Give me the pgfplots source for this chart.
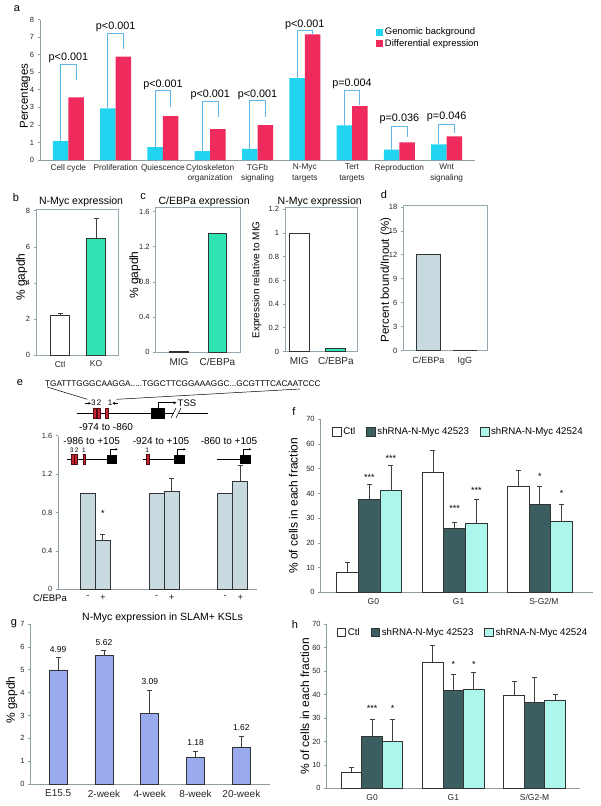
\documentclass[border=0pt]{standalone}
\usepackage{fontspec}
\setmainfont{Liberation Sans}
\usepackage{pgfplots}
\pgfplotsset{compat=1.18}
\usetikzlibrary{arrows.meta}
\definecolor{cyanA}{HTML}{22D4EF}
\definecolor{redA}{HTML}{EF2A5C}
\definecolor{brk}{HTML}{62B6E8}
\definecolor{axgray}{HTML}{8E9CA3}
\definecolor{frgray}{HTML}{97A8B0}
\definecolor{greenB}{HTML}{30E4B4}
\definecolor{gbfill}{HTML}{C9D9E0}
\definecolor{darkF}{HTML}{3B5F60}
\definecolor{lightF}{HTML}{ACF6EC}
\definecolor{blueG}{HTML}{99AAEE}
\definecolor{redbox}{HTML}{C62430}
\pgfplotsset{
 base/.style={scale only axis, anchor=south west, clip=false,
   every axis title shift=0pt,
   /pgf/number format/assume math mode=true,
   tick align=outside, major tick length=2.5pt,
   tick style={draw=axgray, line width=0.7pt},
   ticklabel style={font=\fontsize{7.5}{8}\selectfont, text=black!85},
   xtick style={draw=none}},
 framed/.style={base, axis line style={draw=frgray, line width=1pt}, ytick pos=left},
 open/.style={base, axis x line*=bottom, axis y line*=left, axis line style={draw=axgray, line width=0.8pt}},
 mybar/.style={ybar, bar width=#1, bar shift=0pt, draw=black!80, line width=0.9pt},
 brkline/.style={sharp plot, no markers, draw=brk, line width=0.9pt, forget plot},
 errb/.style={error bars/.cd, y dir=plus, y explicit, error bar style={line width=0.9pt, draw=black!75}, error mark options={rotate=90, mark size=2.5pt, line width=0.9pt, draw=black!75}},
 sq/.style={legend image code/.code={\draw[fill=#1, draw=black!80, line width=0.6pt] (0pt,-4.2pt) rectangle (8.5pt,4.2pt);}},
 fleg/.style={legend columns=3, legend style={at={(axis description cs:#1)}, anchor=west, draw=none, fill=none,
   nodes={font=\fontsize{9.7}{10}\selectfont, inner xsep=2pt},
   /tikz/every even column/.append style={column sep=9pt}}},
}
\begin{document}
\begin{tikzpicture}
\path[use as bounding box] (0,0) rectangle (600pt,-806pt);

% ---------------- a
\begin{axis}[open, at={(40pt,-160pt)}, width=435pt, height=140.5pt,
 xmin=-0.6, xmax=8.6, ymin=0, ymax=8, ytick={0,1,...,8}, xtick={0,1,...,8},
 xticklabels={Cell cycle,Proliferation,Quiescence,{Cytoskeleton\\organization},{TGFb\\signaling},{N-Myc\\targets},{Tert\\targets},Reproduction,{Wnt\\signaling}},
 x tick label style={align=center, font=\fontsize{8.3}{10.5}\selectfont, inner sep=1.5pt},
 ylabel={Percentages}, ylabel style={at={(axis description cs:-0.0345,0.457)}, anchor=center, font=\fontsize{11.5}{12}\selectfont},
 legend style={at={(axis description cs:0.765,0.97)}, anchor=north west, draw=none, fill=none, nodes={font=\fontsize{9.5}{10}\selectfont}, row sep=-1pt},
 legend cell align=left]
\addplot[ybar, bar width=15.5pt, bar shift=-7.75pt, fill=cyanA, draw=none,
  legend image code/.code={\fill[cyanA] (0pt,-3.5pt) rectangle (7pt,3.5pt);}]
  coordinates {(0,1.08)(1,2.94)(2,0.74)(3,0.51)(4,0.63)(5,4.66)(6,1.97)(7,0.59)(8,0.89)};
\addlegendentry{Genomic background}
\addplot[ybar, bar width=15.5pt, bar shift=7.75pt, fill=redA, draw=none,
  legend image code/.code={\fill[redA] (0pt,-3.5pt) rectangle (7pt,3.5pt);}]
  coordinates {(0,3.56)(1,5.88)(2,2.50)(3,1.76)(4,1.99)(5,7.15)(6,3.07)(7,1.00)(8,1.35)};
\addlegendentry{Differential expression}
\addplot[brkline] coordinates {(-0.164,1.08)(-0.164,5.45)(0.164,5.45)(0.164,4.55)};
\addplot[brkline] coordinates {(0.836,2.94)(0.836,7.2)(1.164,7.2)(1.164,6.3)};
\addplot[brkline] coordinates {(1.836,0.74)(1.836,3.97)(2.164,3.97)(2.164,3.0)};
\addplot[brkline] coordinates {(2.836,0.51)(2.836,3.32)(3.164,3.32)(3.164,2.43)};
\addplot[brkline] coordinates {(3.836,0.63)(3.836,3.37)(4.164,3.37)(4.164,2.43)};
\addplot[brkline] coordinates {(4.836,4.66)(4.836,7.36)(5.164,7.36)(5.164,7.15)};
\addplot[brkline] coordinates {(5.836,1.97)(5.836,3.94)(6.164,3.94)(6.164,3.13)};
\addplot[brkline] coordinates {(6.836,0.59)(6.836,1.93)(7.164,1.93)(7.164,1.33)};
\addplot[brkline] coordinates {(7.836,0.89)(7.836,2.05)(8.164,2.05)(8.164,1.52)};
\begin{scope}[every node/.style={font=\fontsize{10.8}{11}\selectfont}]
\node at (axis cs:0,5.8) {p<0.001};
\node at (axis cs:1,7.6) {p<0.001};
\node at (axis cs:2,4.3) {p<0.001};
\node at (axis cs:3,3.7) {p<0.001};
\node at (axis cs:4,3.7) {p<0.001};
\node at (axis cs:5,7.68) {p<0.001};
\node at (axis cs:6,4.32) {p=0.004};
\node at (axis cs:7,2.33) {p=0.036};
\node at (axis cs:8,2.43) {p=0.046};
\end{scope}
\end{axis}

% ---------------- b
\begin{axis}[framed, at={(36pt,-355pt)}, width=82pt, height=146pt,
 xmin=-0.667, xmax=1.611, ymin=0, ymax=8.1, ytick={0,2,4,6,8},
 xtick={0,1}, xticklabels={Ctl,KO}, x tick label style={font=\fontsize{8.5}{9}\selectfont},
 ylabel={\% gapdh}, ylabel style={at={(axis description cs:-0.174,0.534)}, anchor=center, font=\fontsize{12}{12}\selectfont},
 title={N-Myc expression}, title style={at={(axis description cs:0.549,1.048)}, anchor=center, font=\fontsize{10.5}{11}\selectfont}]
\addplot[mybar=18.6pt, fill=white, errb] coordinates {(0,2.2) +- (0,0.13)};
\addplot[mybar=18.6pt, fill=greenB, errb] coordinates {(1,6.45) +- (0,1.13)};
\end{axis}

% ---------------- c left
\begin{axis}[framed, at={(155.7pt,-352pt)}, width=84.3pt, height=145pt,
 xmin=-0.605, xmax=1.584, ymin=0, ymax=1.654, ytick={0,0.4,0.8,1.2,1.6}, yticklabels={0,0.4,0.8,1.2,1.6},
 xtick={0,1}, xticklabels={MIG,C/EBPa}, x tick label style={font=\fontsize{10}{10}\selectfont},
 ylabel={\% gapdh}, ylabel style={at={(axis description cs:-0.246,0.53)}, anchor=center, font=\fontsize{12}{12}\selectfont},
 title={C/EBPa expression}, title style={at={(axis description cs:0.574,1.033)}, anchor=center, font=\fontsize{10.5}{11}\selectfont}]
\addplot[mybar=18.4pt, fill=white] coordinates {(0,0.006)};
\addplot[mybar=18.4pt, fill=greenB] coordinates {(1,1.35)};
\end{axis}

% ---------------- c right
\begin{axis}[framed, at={(285pt,-351.5pt)}, width=72.3pt, height=144.5pt,
 xmin=-0.39, xmax=1.585, ymin=0, ymax=1.22, ytick={0,0.2,0.4,0.6,0.8,1,1.2}, yticklabels={0,0.2,0.4,0.6,0.8,1,1.2},
 xtick={0,1}, xticklabels={MIG,C/EBPa}, x tick label style={font=\fontsize{10}{10}\selectfont},
 ylabel={Expression relative to MIG}, ylabel style={at={(axis description cs:-0.39,0.495)}, anchor=center, font=\fontsize{10}{10}\selectfont},
 title={N-Myc expression}, title style={at={(axis description cs:0.48,1.035)}, anchor=center, font=\fontsize{10.5}{11}\selectfont}]
\addplot[mybar=20pt, fill=white] coordinates {(0,1.0)};
\addplot[mybar=20pt, fill=greenB] coordinates {(1,0.025)};
\end{axis}

% ---------------- d
\begin{axis}[framed, at={(403.3pt,-350.7pt)}, width=84pt, height=145.4pt,
 xmin=-0.685, xmax=1.616, ymin=0, ymax=18.2, ytick={0,3,...,18},
 xtick={0,1}, xticklabels={C/EBPa,IgG}, x tick label style={font=\fontsize{9}{9}\selectfont},
 ylabel={Percent bound/Inout (\%)}, ylabel style={at={(axis description cs:-0.206,0.486)}, anchor=center, font=\fontsize{11.5}{12}\selectfont}]
\addplot[mybar=23.5pt, fill=gbfill] coordinates {(0,12.0)};
\addplot[mybar=23.5pt, fill=gbfill] coordinates {(1,0.08)};
\end{axis}

% ---------------- e
\begin{axis}[open, at={(58.3pt,-589.3pt)}, width=198.4pt, height=153.6pt,
 xmin=0.46, xmax=3.348, ymin=0, ymax=1.6, ytick={0,0.4,0.8,1.2,1.6}, yticklabels={0,0.4,0.8,1.2,1.6},
 xtick={0.891,1.109,1.891,2.109,2.891,3.109}, xticklabels={-,+,-,+,-,+},
 x tick label style={font=\fontsize{9.5}{10}\selectfont}]
\addplot[mybar=15pt, fill=gbfill] coordinates {(0.891,1)(1.891,1)(2.891,1)};
\addplot[mybar=15pt, fill=gbfill, errb] coordinates {(1.109,0.51) +- (0,0.063) (2.109,1.02) +- (0,0.13) (3.109,1.128) +- (0,0.16)};
\node[font=\fontsize{9}{9}\selectfont] at (axis cs:1.109,0.79) {*};
\begin{scope}[every node/.style={font=\fontsize{10}{10}\selectfont}]
\node at (axis cs:0.946,1.548) {-986 to +105};
\node at (axis cs:1.955,1.548) {-924 to +105};
\node at (axis cs:2.945,1.548) {-860 to +105};
\end{scope}
\node[font=\fontsize{9.5}{10}\selectfont] at (axis description cs:-0.042,-0.057) {C/EBPa};
\end{axis}

% ---------------- f
\begin{axis}[open, at={(320.7pt,-592.3pt)}, width=272.6pt, height=173pt,
 xmin=-0.57, xmax=2.626, ymin=0, ymax=70, ytick={0,10,...,70},
 xtick={0,1,2}, xticklabels={G0,G1,S-G2/M}, x tick label style={font=\fontsize{8.5}{9}\selectfont, xshift=4pt},
 ylabel={\% of cells in each fraction}, ylabel style={at={(axis description cs:-0.10,0.5)}, anchor=center, font=\fontsize{12}{12}\selectfont},
 fleg={0.031,0.928}]
\addplot[mybar=21.7pt, fill=white, sq=white, errb] coordinates {(-0.254,8.1) +- (0,3.9) (0.746,48.6) +- (0,9.0) (1.746,42.7) +- (0,6.8)};
\addlegendentry{Ctl}
\addplot[mybar=21.7pt, fill=darkF, sq=darkF, errb] coordinates {(0,37.6) +- (0,6.1) (1,25.9) +- (0,2.3) (2,35.6) +- (0,7.1)};
\addlegendentry{shRNA-N-Myc 42523}
\addplot[mybar=21.7pt, fill=lightF, sq=lightF, errb] coordinates {(0.254,41.1) +- (0,10.4) (1.254,27.9) +- (0,9.7) (2.254,28.6) +- (0,7.1)};
\addlegendentry{shRNA-N-Myc 42524}
\begin{scope}[every node/.style={font=\fontsize{9}{9}\selectfont}]
\node at (axis cs:0,46.3) {***};
\node at (axis cs:0.254,54.1) {***};
\node at (axis cs:1,34.1) {***};
\node at (axis cs:1.254,41.3) {***};
\node at (axis cs:2,46.8) {*};
\node at (axis cs:2.254,40.2) {*};
\end{scope}
\end{axis}

% ---------------- g
\begin{axis}[open, at={(30.7pt,-784pt)}, width=239.3pt, height=160pt,
 xmin=-0.6, xmax=4.625, ymin=0, ymax=7, ytick={0,1,...,7},
 xtick={0,1,2,3,4}, xticklabels={E15.5,2-week,4-week,8-week,20-week}, x tick label style={font=\fontsize{10}{10}\selectfont},
 ylabel={\% gapdh}, ylabel style={at={(axis description cs:-0.079,0.525)}, anchor=center, font=\fontsize{12}{12}\selectfont},
 title={N-Myc expression in SLAM+ KSLs}, title style={at={(axis description cs:0.551,1.042)}, anchor=center, font=\fontsize{10.5}{11}\selectfont}]
\addplot[mybar=18pt, fill=blueG, errb] coordinates {(0,4.99) +- (0,0.53) (1,5.62) +- (0,0.21) (2,3.09) +- (0,1.02) (3,1.18) +- (0,0.26) (4,1.62) +- (0,0.48)};
\begin{scope}[every node/.style={font=\fontsize{8.5}{9}\selectfont}]
\node at (axis cs:0,5.9) {4.99};
\node at (axis cs:1,6.2) {5.62};
\node at (axis cs:2,4.48) {3.09};
\node at (axis cs:3,1.81) {1.18};
\node at (axis cs:4,2.46) {1.62};
\end{scope}
\end{axis}

% ---------------- h
\begin{axis}[open, at={(326.7pt,-788.3pt)}, width=253.3pt, height=164pt,
 xmin=-0.56, xmax=2.56, ymin=0, ymax=70, ytick={0,10,...,70},
 xtick={0,1,2}, xticklabels={G0,G1,S/G2-M}, x tick label style={font=\fontsize{8.5}{9}\selectfont},
 ylabel={\% of cells in each fraction}, ylabel style={at={(axis description cs:-0.086,0.5)}, anchor=center, font=\fontsize{12}{12}\selectfont},
 fleg={0.027,0.951}]
\addplot[mybar=20.5pt, fill=white, sq=white, errb] coordinates {(-0.2525,6.8) +- (0,2.2) (0.7475,53.8) +- (0,7.1) (1.7475,39.8) +- (0,5.7)};
\addlegendentry{Ctl}
\addplot[mybar=20.5pt, fill=darkF, sq=darkF, errb] coordinates {(0,22.0) +- (0,7.6) (1,41.7) +- (0,7.1) (2,36.6) +- (0,10.8)};
\addlegendentry{shRNA-N-Myc 42523}
\addplot[mybar=20.5pt, fill=lightF, sq=lightF, errb] coordinates {(0.2525,19.9) +- (0,9.3) (1.2525,42.2) +- (0,7.2) (2.2525,37.7) +- (0,2.4)};
\addlegendentry{shRNA-N-Myc 42524}
\begin{scope}[every node/.style={font=\fontsize{9}{9}\selectfont}]
\node at (axis cs:0,34.1) {***};
\node at (axis cs:0.2525,34.1) {*};
\node at (axis cs:1,52.8) {*};
\node at (axis cs:1.2525,52.8) {*};
\end{scope}
\end{axis}

% ---------------- annotations
\begin{scope}[x=1pt, y=-1pt]
\begin{scope}[every node/.style={font=\fontsize{11}{11}\selectfont}]
\node at (17,9) {a};
\node at (16,198) {b};
\node at (143,197) {c};
\node at (384,195) {d};
\node at (20,383) {e};
\node at (294,411.7) {f};
\node at (14,624) {g};
\node at (295,625) {h};
\end{scope}
% e: sequence and gene diagrams
\node[anchor=west, inner sep=0pt, font=\fontsize{8.2}{9}\selectfont] at (45,383.3) {TGATTTGGGCAAGGA.....TGGCTTCGGAAAGGC...GCGTTTCACAATCCC};
\draw[line width=0.5pt] (47,387) -- (87.3,399.3);
\draw[line width=0.5pt] (300,389) -- (116.7,399.3);
\draw[line width=0.6pt] (76.7,413.3) -- (208.3,413.3);
\fill[white] (173.5,410) rectangle (178.5,416.5);
\draw[line width=0.5pt] (171,418) -- (176,408);
\draw[line width=0.5pt] (176,418) -- (181,408);
\filldraw[fill=redbox, draw=black!60!redbox, line width=0.4pt] (92.7,408) rectangle (96,418);
\filldraw[fill=redbox, draw=black!60!redbox, line width=0.4pt] (96.7,408) rectangle (100,418);
\filldraw[fill=redbox, draw=black!60!redbox, line width=0.4pt] (105,408) rectangle (108.3,418);
\fill[black] (150.7,408.3) rectangle (165,419);
\draw[line width=0.6pt, -{Latex[length=3pt,width=3pt]}] (158.3,408.3) -- (158.3,402.7) -- (176.7,402.7);
\node[font=\fontsize{9.5}{10}\selectfont, anchor=west, inner sep=0pt] at (177.5,403.3) {TSS};
\begin{scope}[every node/.style={font=\fontsize{8}{8}\selectfont, inner sep=0pt}]
\node at (93.3,402.7) {3};
\node at (99,402.7) {2};
\node at (110,402.7) {1};
\end{scope}
\draw[line width=0.5pt, -{Latex[length=2.5pt,width=3pt]}] (85,403.3) -- (91,403.3);
\draw[line width=0.5pt, -{Latex[length=2.5pt,width=3pt]}] (117.5,403.3) -- (112.3,403.3);
\node[font=\fontsize{10}{10}\selectfont] at (106,426.7) {-974 to -860};
% group diagrams
\draw[line width=0.6pt] (66.7,459.3) -- (116.7,459.3);
\filldraw[fill=redbox, draw=black!60!redbox, line width=0.4pt] (70.7,454) rectangle (74,464);
\filldraw[fill=redbox, draw=black!60!redbox, line width=0.4pt] (74,454) rectangle (77.3,464);
\filldraw[fill=redbox, draw=black!60!redbox, line width=0.4pt] (82.7,454) rectangle (85.3,464);
\fill[black] (106.7,454.7) rectangle (117.3,463.7);
\draw[line width=0.5pt, -{Latex[length=2.5pt,width=2.5pt]}] (110.7,454.7) -- (110.7,449.3) -- (118,449.3);
\draw[line width=0.6pt] (142.7,459.3) -- (185,459.3);
\filldraw[fill=redbox, draw=black!60!redbox, line width=0.4pt] (145.7,454) rectangle (149,464);
\fill[black] (174.3,454.7) rectangle (185.3,463.7);
\draw[line width=0.5pt, -{Latex[length=2.5pt,width=2.5pt]}] (177.7,454.7) -- (177.7,449.3) -- (186,449.3);
\draw[line width=0.6pt] (216.7,459.5) -- (250,459.5);
\fill[black] (240,455) rectangle (250.7,464);
\draw[line width=0.5pt, -{Latex[length=2.5pt,width=2.5pt]}] (243.3,455) -- (243.3,449.3) -- (251.5,449.3);
\begin{scope}[every node/.style={font=\fontsize{6.5}{7}\selectfont, inner sep=0pt}]
\node at (71.7,450.5) {3};
\node at (76.7,450.5) {2};
\node at (84,450.5) {1};
\node at (147.3,450.5) {1};
\end{scope}
\end{scope}
\end{tikzpicture}
\end{document}
